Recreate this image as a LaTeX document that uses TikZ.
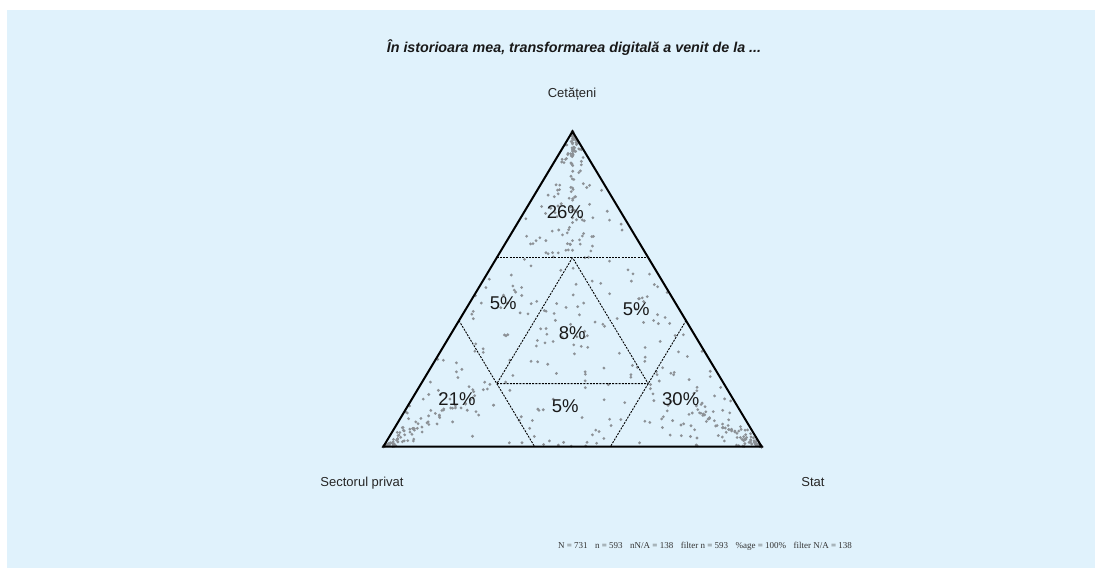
\documentclass[tikz,border=0pt]{standalone}
\usepackage{fontspec}
\setmainfont{Liberation Sans}
\newfontfamily\footserif{Liberation Serif}
\usetikzlibrary{calc}
\definecolor{bgblue}{RGB}{224,242,252}
\definecolor{dotgray}{RGB}{140,145,150}
\newcommand\barydot[3]{%
  \pgfmathsetmacro\dX{(#1)*572.5+(#2)*383.3+(#3)*761.7}%
  \pgfmathsetmacro\dY{(#1)*131.5+((#2)+(#3))*446.7}%
  \fill[dot] (\dX,\dY) circle[radius=1.55];}
\begin{document}
\begin{tikzpicture}[x=1pt,y=-1pt,
  tri/.style={line width=2pt,line join=miter},
  divline/.style={line width=0.9pt,dash pattern=on 2pt off 1.2pt},
  pct/.style={font=\fontsize{18.5}{19}\selectfont,text=black!90,inner sep=0pt},
  axislbl/.style={font=\fontsize{13}{14}\selectfont,text=black!85,inner sep=0pt,anchor=base},
  dot/.style={fill=dotgray}]
\useasboundingbox (0,0) rectangle (1102,576);
\fill[bgblue] (7,10) rectangle (1095,568);
\coordinate (A) at (572.5,131.5);
\coordinate (L) at (383.3,446.7);
\coordinate (R) at (761.7,446.7);
\pgfmathsetseed{4711}
% apex cluster
\foreach \i in {1,...,154}{
  \pgfmathsetmacro\t{0.4*pow(rnd,1.7)}
  \pgfmathsetmacro\r{rand}
  \pgfmathsetmacro\w{0.5+0.45*\r*abs(\r)}
  \barydot{1-\t}{\t*\w}{\t*(1-\w)}
}
% bottom-left cluster
\foreach \i in {1,...,125}{
  \pgfmathsetmacro\t{0.4*pow(rnd,2)}
  \pgfmathsetmacro\r{rand}
  \pgfmathsetmacro\w{0.5+0.5*\r*abs(\r)}
  \barydot{\t*\w}{1-\t}{\t*(1-\w)}
}
% bottom-right cluster
\foreach \i in {1,...,178}{
  \pgfmathsetmacro\t{0.4*pow(rnd,2.4)}
  \pgfmathsetmacro\r{rand}
  \pgfmathsetmacro\w{0.5+0.5*\r*abs(\r)}
  \barydot{\t*\w}{\t*(1-\w)}{1-\t}
}
% left middle
\foreach \i in {1,...,30}{
  \pgfmathsetmacro\s{0.2*rnd}
  \pgfmathsetmacro\c{0.6-(0.2+\s)*rnd}
  \barydot{\c}{1-\c-\s}{\s}
}
% right middle
\foreach \i in {1,...,30}{
  \pgfmathsetmacro\p{0.2*rnd}
  \pgfmathsetmacro\c{0.6-(0.2+\p)*rnd}
  \barydot{\c}{\p}{1-\c-\p}
}
% bottom middle
\foreach \i in {1,...,30}{
  \pgfmathsetmacro\c{0.2*pow(rnd,1.5)}
  \pgfmathsetmacro\p{0.6-(0.2+\c)*rnd}
  \barydot{\c}{\p}{1-\c-\p}
}
% centre
\foreach \i in {1,...,47}{
  \pgfmathsetmacro\u{rnd}
  \pgfmathsetmacro\v{rnd}
  \pgfmathsetmacro\a{min(\u,\v)}
  \pgfmathsetmacro\b{max(\u,\v)}
  \barydot{0.2+0.4*\a}{0.2+0.4*(\b-\a)}{0.2+0.4*(1-\b)}
}
% division lines
\coordinate (c6L) at ($0.6*(A)+0.4*(L)$);
\coordinate (c6R) at ($0.6*(A)+0.4*(R)$);
\coordinate (p6A) at ($0.4*(A)+0.6*(L)$);
\coordinate (p6R) at ($0.6*(L)+0.4*(R)$);
\coordinate (s6A) at ($0.4*(A)+0.6*(R)$);
\coordinate (s6L) at ($0.4*(L)+0.6*(R)$);
\coordinate (I1) at ($0.6*(A)+0.2*(L)+0.2*(R)$);
\coordinate (I2) at ($0.2*(A)+0.6*(L)+0.2*(R)$);
\coordinate (I3) at ($0.2*(A)+0.2*(L)+0.6*(R)$);
\draw[divline] (c6L) -- (c6R);
\draw[divline] (p6A) -- (p6R);
\draw[divline] (s6A) -- (s6L);
\draw[divline] (I1) -- (I2) -- (I3) -- cycle;
\draw[tri] (A) -- (L) -- (R) -- cycle;
% percentages
\node[pct] (t26) at (565.3,212) {26\%};
\node[pct] (l5) at (503.3,303) {5\%};
\node[pct] (r5) at (636.3,309.3) {5\%};
\node[pct] (c8) at (572.3,333.3) {8\%};
\node[pct] (b21) at (457,399.3) {21\%};
\node[pct] (b5) at (565.3,406) {5\%};
\node[pct] (b30) at (680.7,399.3) {30\%};
% labels
\node[font=\bfseries\itshape\fontsize{14.3}{15}\selectfont,text=black!90,inner sep=0pt,anchor=base] (title) at (574,52.5) {În istorioara mea, transformarea digitală a venit de la ...};
\node[axislbl] (cet) at (572,97) {Cetățeni};
\node[axislbl] (priv) at (362,486) {Sectorul privat};
\node[axislbl] (stat) at (813,486) {Stat};
\node[font=\footserif\fontsize{9}{10}\selectfont,text=black!80,inner sep=0pt,anchor=base] (foot) at (705,548) {N = 731\hspace{7.5pt}n = 593\hspace{7.5pt}nN/A = 138\hspace{7.5pt}filter n = 593\hspace{7.5pt}\%age = 100\%\hspace{7.5pt}filter N/A = 138};
\end{tikzpicture}
\end{document}
